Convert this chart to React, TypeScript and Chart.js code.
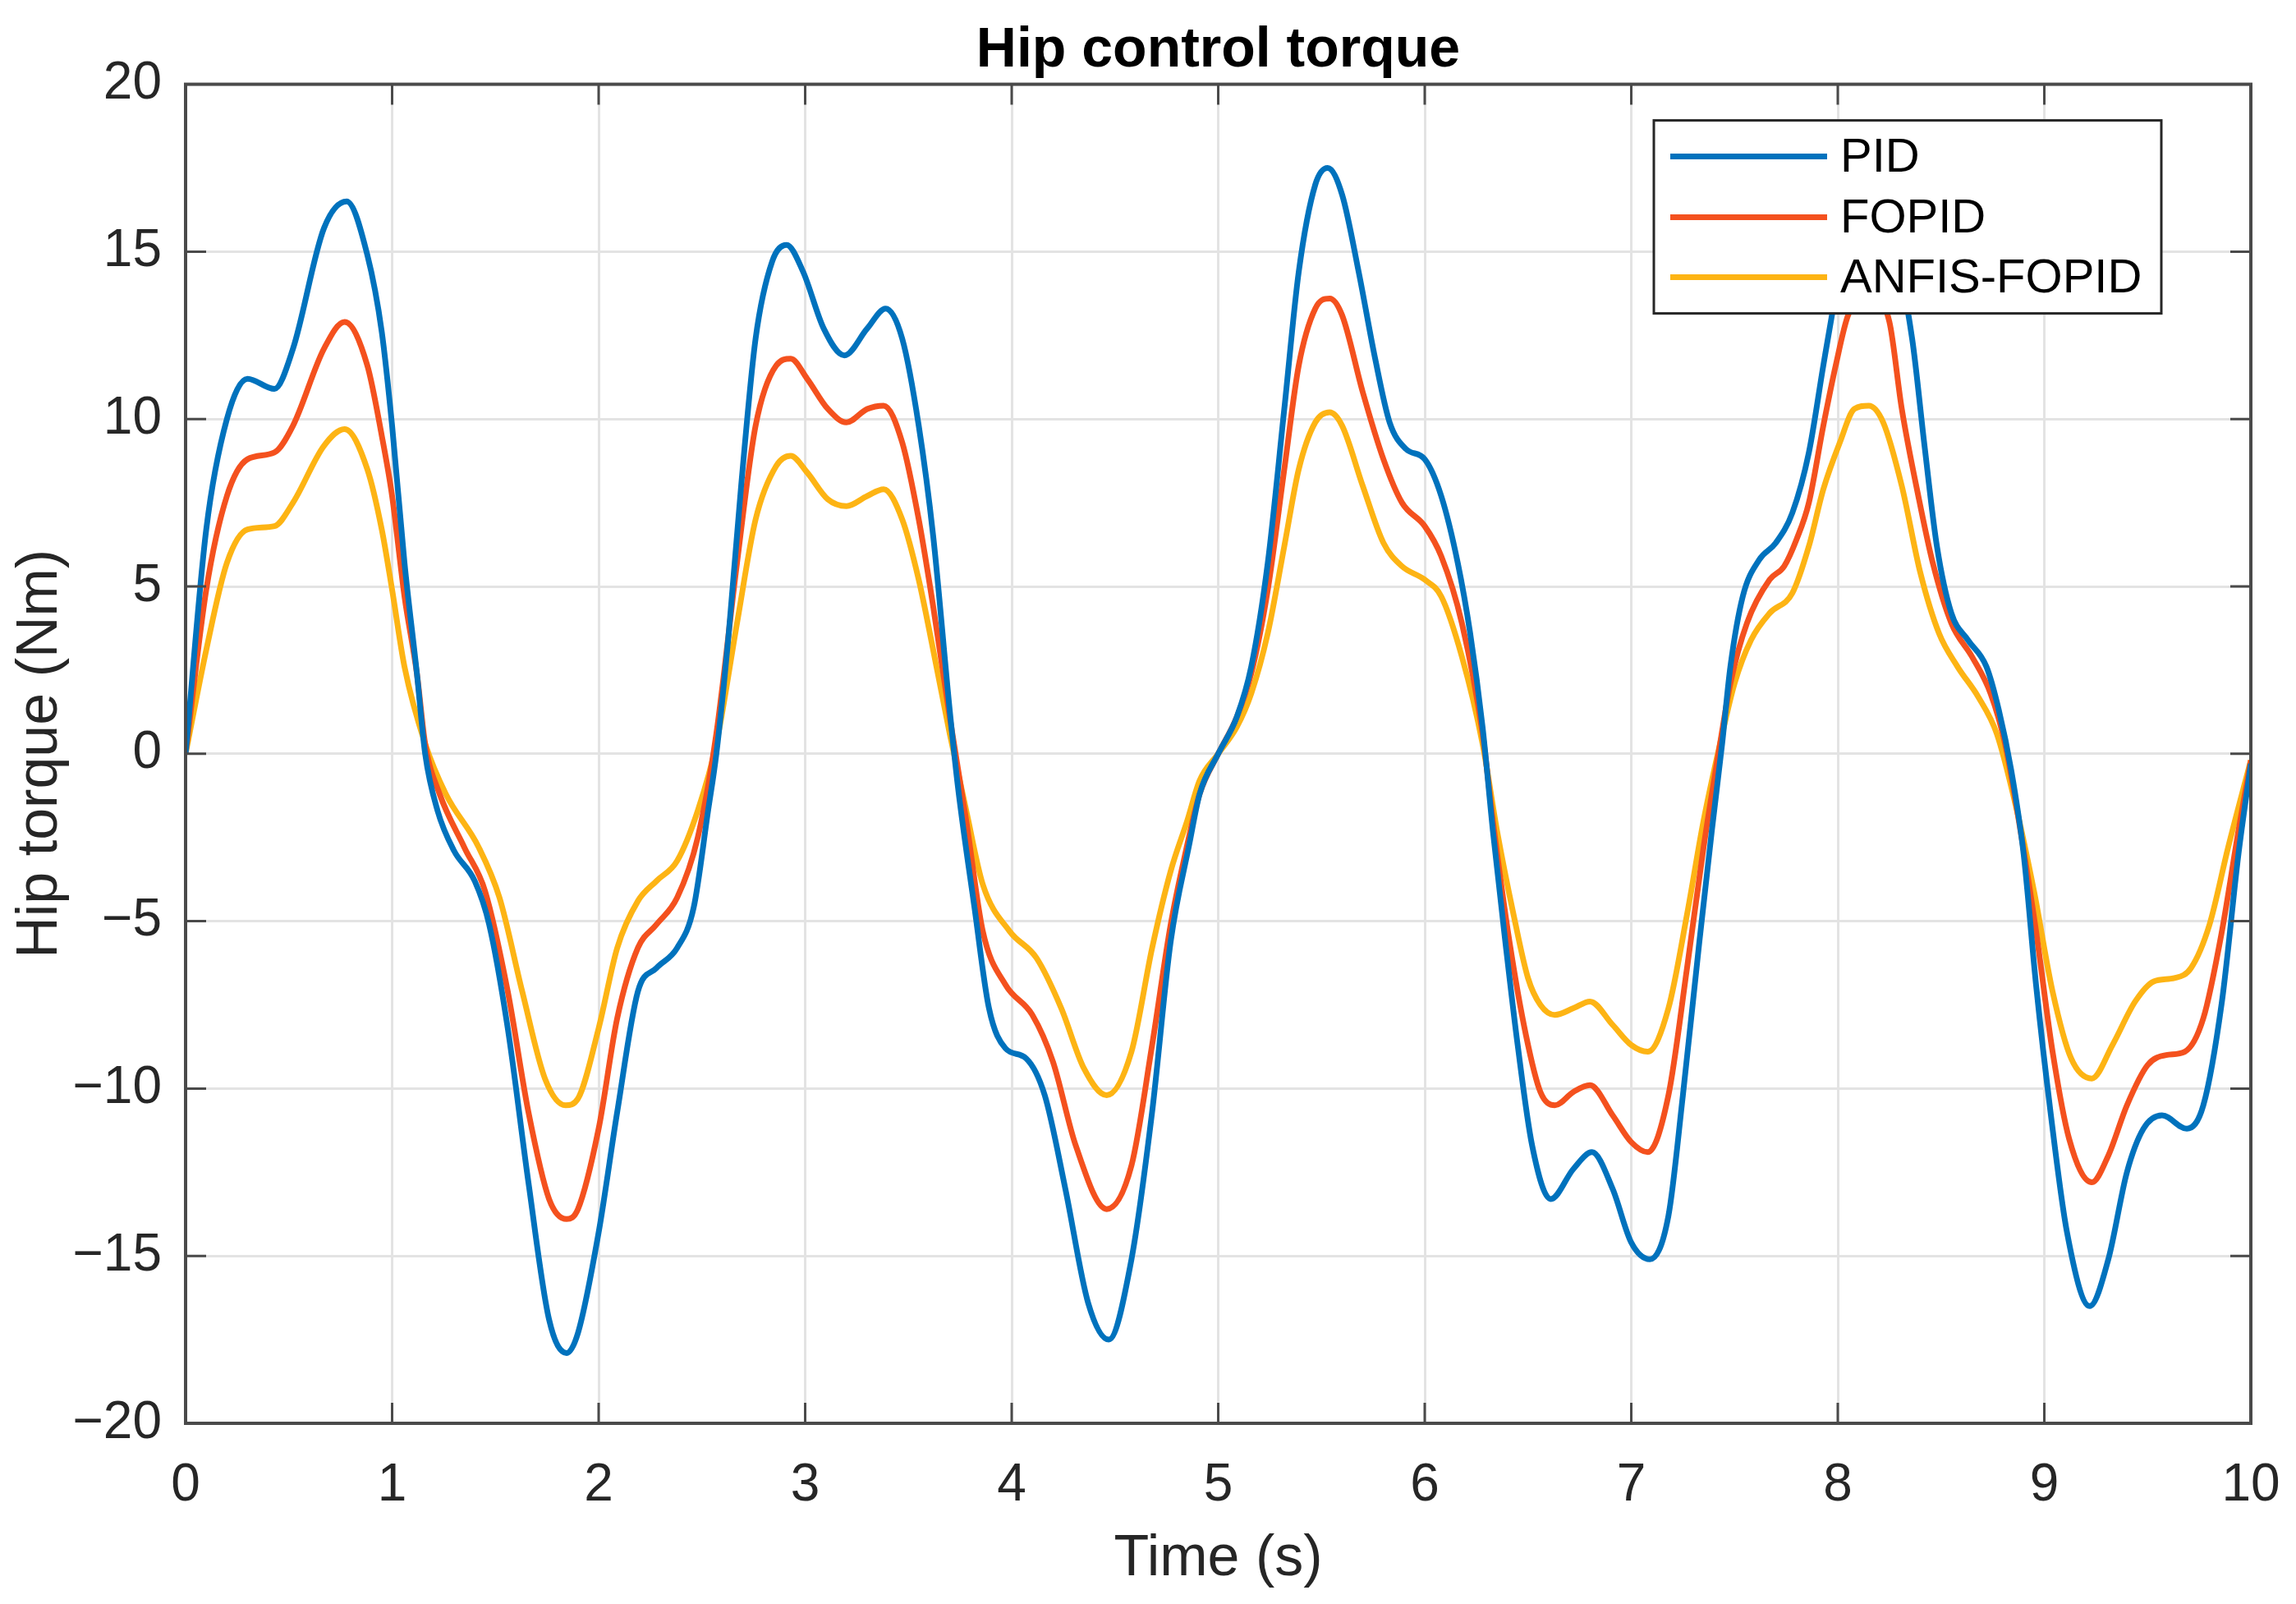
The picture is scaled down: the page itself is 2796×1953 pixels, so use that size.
import { useEffect, useRef } from "react";
import { Chart, registerables } from "chart.js";

Chart.register(...registerables);

const FONT = "'Liberation Sans', Arial, Helvetica, sans-serif";

const chartTitle = "Hip control torque";
const xAxisTitle = "Time (s)";
const yAxisTitle = "Hip torque (Nm)";
const seriesNames = ["PID", "FOPID", "ANFIS-FOPID"];
const seriesColors = ["#0072BD", "#F4511E", "#FDB414"];

const xTicks = [0, 1, 2, 3, 4, 5, 6, 7, 8, 9, 10];
const yTicks = [-20, -15, -10, -5, 0, 5, 10, 15, 20];

const pidTime = [
  0, 0.1, 0.2, 0.3, 0.43, 0.52, 0.67, 0.78, 0.88, 0.95, 1.0, 1.06, 1.12, 1.16, 1.22, 1.3, 1.4, 1.47,
  1.56, 1.66, 1.76, 1.845, 1.9, 2.0, 2.09, 2.19, 2.28, 2.38, 2.46, 2.53, 2.57, 2.63, 2.69, 2.76, 2.84,
  2.91, 2.99, 3.09, 3.19, 3.3, 3.39, 3.47, 3.55, 3.62, 3.7, 3.74, 3.82, 3.89, 3.97, 4.07, 4.16, 4.26,
  4.37, 4.47, 4.58, 4.68, 4.77, 4.86, 4.91, 5.0, 5.09, 5.16, 5.24, 5.32, 5.39, 5.47, 5.53, 5.6, 5.68,
  5.76, 5.83, 5.91, 6.0, 6.08, 6.16, 6.22, 6.28, 6.33, 6.39, 6.45, 6.52, 6.61, 6.72, 6.81, 6.91, 7.0,
  7.09, 7.18, 7.25, 7.33, 7.39, 7.44, 7.48, 7.54, 7.62, 7.7, 7.78, 7.86, 7.93, 7.98, 8.07, 8.15, 8.25,
  8.36, 8.42, 8.48, 8.55, 8.63, 8.72, 8.78, 8.84, 8.9, 8.96, 9.03, 9.11, 9.22, 9.31, 9.4, 9.48, 9.57,
  9.69, 9.77, 9.86, 9.94, 10.0,
];
const pidTorque = [
  0, 6.7, 10.0, 11.2, 10.9, 12.1, 15.7, 16.5, 14.9, 12.6, 9.8, 5.7, 2.4, 0, -1.7, -2.9, -3.8, -5.1,
  -8.2, -12.8, -16.9, -17.9, -17.3, -14.3, -10.7, -7.1, -6.4, -5.8, -4.6, -1.7, 0, 3.6, 8.0, 12.4, 14.7,
  15.2, 14.4, 12.7, 11.9, 12.7, 13.3, 12.4, 9.8, 6.5, 1.3, -1.0, -4.6, -7.6, -8.8, -9.1, -10.2, -13.0,
  -16.4, -17.5, -15.1, -10.7, -5.6, -2.7, -1.2, 0, 1.1, 2.6, 5.7, 10.3, 14.4, 17.0, 17.5, 16.7, 14.4,
  11.8, 9.9, 9.1, 8.8, 7.7, 5.7, 3.6, 0.8, -2.3, -5.6, -8.7, -11.7, -13.3, -12.4, -11.9, -13.0, -14.6,
  -15.1, -13.8, -10.2, -5.6, -2.3, 0.3, 2.6, 4.7, 5.8, 6.3, 7.2, 9.0, 11.6, 13.4, 16.3, 17.2, 15.8,
  12.4, 9.2, 6.2, 4.2, 3.4, 2.6, 1.3, -0.5, -3.0, -6.9, -10.7, -14.3, -16.5, -15.1, -12.5, -11.2, -10.8,
  -11.2, -10.5, -7.4, -3.0, -0.3,
];

const fopidTime = [
  0, 0.1, 0.2, 0.3, 0.43, 0.52, 0.67, 0.77, 0.88, 0.95, 1.0, 1.06, 1.12, 1.16, 1.23, 1.35, 1.45, 1.56,
  1.66, 1.76, 1.845, 1.9, 2.0, 2.09, 2.19, 2.28, 2.38, 2.48, 2.57, 2.67, 2.76, 2.86, 2.93, 3.01, 3.11,
  3.2, 3.3, 3.38, 3.47, 3.55, 3.62, 3.7, 3.78, 3.86, 3.97, 4.1, 4.2, 4.31, 4.46, 4.58, 4.68, 4.77, 4.84,
  4.91, 5.0, 5.09, 5.16, 5.24, 5.32, 5.39, 5.47, 5.54, 5.6, 5.7, 5.8, 5.89, 6.0, 6.08, 6.18, 6.28, 6.33,
  6.41, 6.49, 6.56, 6.63, 6.72, 6.8, 6.91, 7.0, 7.08, 7.18, 7.27, 7.35, 7.43, 7.48, 7.56, 7.67, 7.74,
  7.8, 7.86, 7.93, 7.99, 8.05, 8.15, 8.25, 8.31, 8.39, 8.46, 8.55, 8.65, 8.74, 8.81, 8.89, 8.96, 9.04,
  9.12, 9.23, 9.31, 9.4, 9.5, 9.59, 9.68, 9.77, 9.86, 9.94, 10.0,
];
const fopidTorque = [
  0, 4.9, 7.7, 8.8, 9.0, 9.8, 12.1, 12.9, 11.6, 9.5, 7.7, 4.7, 2.4, 0.3, -1.2, -2.8, -4.1, -7.1,
  -10.7, -13.3, -13.9, -13.6, -11.2, -7.9, -5.8, -5.1, -4.3, -2.5, 0.6, 5.7, 9.8, 11.6, 11.8, 11.2, 10.3,
  9.9, 10.3, 10.4, 9.3, 7.0, 4.4, 1.1, -2.0, -5.3, -6.9, -7.8, -9.2, -11.7, -13.6, -12.3, -8.7, -5.1, -3.0,
  -1.2, 0, 1.1, 2.4, 4.9, 8.5, 11.6, 13.3, 13.6, 13.1, 10.8, 8.8, 7.5, 6.8, 5.9, 3.9, 0.6, -2.0,
  -5.6, -8.4, -10.1, -10.5, -10.1, -9.9, -10.8, -11.6, -11.9, -10.2, -6.4, -2.8, 0.3, 2.1, 3.9, 5.2, 5.6,
  6.4, 7.5, 9.8, 11.6, 13.1, 13.8, 12.9, 10.3, 7.7, 5.7, 3.9, 2.9, 1.8, 0.3, -2.5, -5.3, -8.9,
  -11.5, -12.8, -12.0, -10.5, -9.3, -9.0, -8.9, -7.9, -5.3, -2.3, -0.2,
];

const anfisTime = [
  0, 0.1, 0.2, 0.3, 0.43, 0.52, 0.67, 0.77, 0.88, 0.95, 1.0, 1.06, 1.16, 1.26, 1.42, 1.52, 1.63, 1.74,
  1.84, 1.9, 2.0, 2.09, 2.19, 2.28, 2.38, 2.48, 2.57, 2.67, 2.76, 2.86, 2.93, 3.01, 3.11, 3.2, 3.3,
  3.38, 3.47, 3.55, 3.62, 3.7, 3.78, 3.86, 3.99, 4.12, 4.24, 4.35, 4.46, 4.58, 4.68, 4.77, 4.85, 4.91,
  5.0, 5.09, 5.16, 5.24, 5.32, 5.39, 5.47, 5.54, 5.6, 5.7, 5.8, 5.89, 6.0, 6.08, 6.18, 6.28, 6.35,
  6.43, 6.5, 6.56, 6.63, 6.72, 6.8, 6.91, 7.0, 7.08, 7.18, 7.27, 7.35, 7.43, 7.5, 7.58, 7.67, 7.78,
  7.86, 7.93, 8.01, 8.08, 8.15, 8.22, 8.31, 8.4, 8.49, 8.58, 8.68, 8.77, 8.86, 8.95, 9.04, 9.13, 9.23,
  9.33, 9.44, 9.53, 9.63, 9.71, 9.8, 9.89, 10.0,
];
const anfisTorque = [
  0, 3.1, 5.7, 6.7, 6.8, 7.5, 9.2, 9.7, 8.5, 6.7, 4.9, 2.6, 0.3, -1.2, -2.8, -4.3, -7.1, -9.7,
  -10.5, -10.3, -8.2, -5.8, -4.4, -3.8, -3.2, -1.7, 0.3, 3.9, 7.0, 8.6, 8.9, 8.4, 7.6, 7.4, 7.7,
  7.9, 7.0, 5.2, 3.1, 0.6, -1.7, -3.9, -5.3, -6.1, -7.6, -9.4, -10.2, -8.9, -5.8, -3.5, -2.0, -0.8,
  0, 0.8, 1.8, 3.6, 6.2, 8.5, 9.9, 10.2, 9.8, 8.0, 6.3, 5.6, 5.2, 4.7, 2.9, 0.3, -2.3,
  -4.8, -6.7, -7.5, -7.8, -7.6, -7.4, -8.1, -8.7, -8.9, -7.6, -4.8, -2.0, 0.3, 2.1, 3.4, 4.2, 4.8,
  6.2, 7.9, 9.3, 10.3, 10.4, 9.9, 8.0, 5.4, 3.6, 2.6, 1.7, 0.6, -1.5, -4.1, -7.1, -9.1, -9.7,
  -8.7, -7.4, -6.8, -6.7, -6.4, -5.1, -2.8, -0.2,
];

const toPoints = (t: number[], v: number[]) => t.map((x, i) => ({ x, y: v[i] }));

const frameAndLegend = {
  id: "frameAndLegend",
  afterDatasetsDraw(chart: any) {
    const { ctx, chartArea } = chart;
    const { left, right, top, bottom } = chartArea;
    const xs = chart.scales.x;
    const ys = chart.scales.y;
    ctx.save();
    // inward tick marks on all four sides
    ctx.strokeStyle = "#4a4a4a";
    ctx.lineWidth = 3;
    ctx.beginPath();
    const tl = 25;
    for (const v of xTicks) {
      const px = xs.getPixelForValue(v);
      ctx.moveTo(px, bottom);
      ctx.lineTo(px, bottom - tl);
      ctx.moveTo(px, top);
      ctx.lineTo(px, top + tl);
    }
    for (const v of yTicks) {
      const py = ys.getPixelForValue(v);
      ctx.moveTo(left, py);
      ctx.lineTo(left + tl, py);
      ctx.moveTo(right, py);
      ctx.lineTo(right - tl, py);
    }
    ctx.stroke();
    // box
    ctx.lineWidth = 4;
    ctx.strokeRect(left, top, right - left, bottom - top);

    // legend (opaque, inside the axes, top right)
    const lw = 618;
    const lh = 235;
    const lx = right - 109 - lw;
    const ly = top + 44;
    ctx.fillStyle = "#ffffff";
    ctx.fillRect(lx, ly, lw, lh);
    ctx.strokeStyle = "#262626";
    ctx.lineWidth = 3;
    ctx.strokeRect(lx, ly, lw, lh);
    ctx.font = `58px ${FONT}`;
    ctx.textBaseline = "middle";
    ctx.textAlign = "left";
    const rows = [44, 118, 191];
    chart.data.datasets.forEach((ds: any, i: number) => {
      const yy = ly + rows[i];
      ctx.strokeStyle = ds.borderColor;
      ctx.lineWidth = 7;
      ctx.beginPath();
      ctx.moveTo(lx + 20, yy);
      ctx.lineTo(lx + 211, yy);
      ctx.stroke();
      ctx.fillStyle = "#000000";
      ctx.fillText(ds.label, lx + 227, yy + 2);
    });
    ctx.restore();
  },
};

export default function App() {
  const ref = useRef<HTMLCanvasElement | null>(null);

  useEffect(() => {
    if (!ref.current) return;
    const series = [
      toPoints(pidTime, pidTorque),
      toPoints(fopidTime, fopidTorque),
      toPoints(anfisTime, anfisTorque),
    ];
    const chart = new Chart(ref.current, {
      type: "line",
      data: {
        datasets: series.map((pts, i) => ({
          label: seriesNames[i],
          data: pts,
          borderColor: seriesColors[i],
          backgroundColor: seriesColors[i],
          borderWidth: 7,
          pointRadius: 0,
          fill: false,
          cubicInterpolationMode: "monotone" as const,
        })),
      },
      options: {
        animation: false,
        responsive: false,
        devicePixelRatio: 1,
        layout: { padding: { left: 0, right: 55, top: 0, bottom: 0 } },
        plugins: {
          legend: { display: false },
          tooltip: { enabled: false },
          title: {
            display: true,
            text: chartTitle,
            fullSize: false,
            color: "#000000",
            font: { family: FONT, size: 68, weight: "bold" },
            padding: { top: 21, bottom: 0 },
          },
        },
        scales: {
          x: {
            type: "linear",
            min: 0,
            max: 10,
            afterFit: (s: any) => {
              s.height = 220;
              s.paddingLeft = 0;
              s.paddingRight = 0;
            },
            afterBuildTicks: (s: any) => {
              s.ticks = xTicks.map((v) => ({ value: v }));
            },
            ticks: {
              color: "#262626",
              font: { family: FONT, size: 64 },
              padding: 38,
              maxRotation: 0,
              autoSkip: false,
            },
            grid: { color: "#e3e3e3", lineWidth: 3, drawTicks: false },
            border: { display: false },
            title: {
              display: true,
              text: xAxisTitle,
              color: "#262626",
              font: { family: FONT, size: 70 },
              padding: { top: 0, bottom: 12 },
            },
          },
          y: {
            type: "linear",
            min: -20,
            max: 20,
            afterFit: (s: any) => {
              s.width = 226;
              s.paddingTop = 0;
              s.paddingBottom = 0;
            },
            afterBuildTicks: (s: any) => {
              s.ticks = yTicks.map((v) => ({ value: v }));
            },
            ticks: {
              color: "#262626",
              font: { family: FONT, size: 64 },
              padding: 29,
              autoSkip: false,
              callback: (v: any) => String(v).replace("-", "\u2212"),
            },
            grid: { color: "#e3e3e3", lineWidth: 3, drawTicks: false },
            border: { display: false },
            title: {
              display: true,
              text: yAxisTitle,
              color: "#262626",
              font: { family: FONT, size: 70 },
              padding: { top: 8, bottom: 0 },
            },
          },
        },
      },
      plugins: [frameAndLegend],
    });
    return () => chart.destroy();
  }, []);

  return (
    <div style={{ position: "absolute", left: 0, top: 0, width: 2796, height: 1953, background: "#ffffff" }}>
      <canvas ref={ref} width={2796} height={1953} style={{ width: 2796, height: 1953, display: "block" }} />
    </div>
  );
}
